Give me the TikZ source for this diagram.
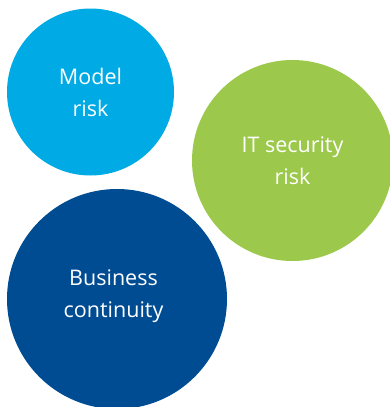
\documentclass[tikz,border=0pt]{standalone}
\usepackage{fontspec}
\setmainfont{Open Sans}
\definecolor{C0}{RGB}{0,170,228}
\definecolor{C1}{RGB}{156,201,76}
\definecolor{C2}{RGB}{0,76,147}
\tikzset{riskcircle/.style={circle,inner sep=0pt,text=white,align=center,
    font=\fontsize{21.5}{32}\selectfont}}

\begin{document}
\begin{tikzpicture}[x=1pt,y=-1pt]
                \useasboundingbox (0,0) rectangle (389,407);
                \node[riskcircle,fill=C0,minimum size=167] (model) at (90.5,92) {Model\\risk};
                \node[riskcircle,fill=C1,minimum size=201] (itsec) at (292.5,160.5) {IT security\\risk};
                \node[riskcircle,fill=C2,minimum size=220] (bcont) at (117,299) {};
                \node[text=white,align=center,font=\fontsize{21.5}{32}\selectfont] (bcontlabel) at (113.5,296.5) {Business\\continuity};
            \end{tikzpicture}
\end{document}
